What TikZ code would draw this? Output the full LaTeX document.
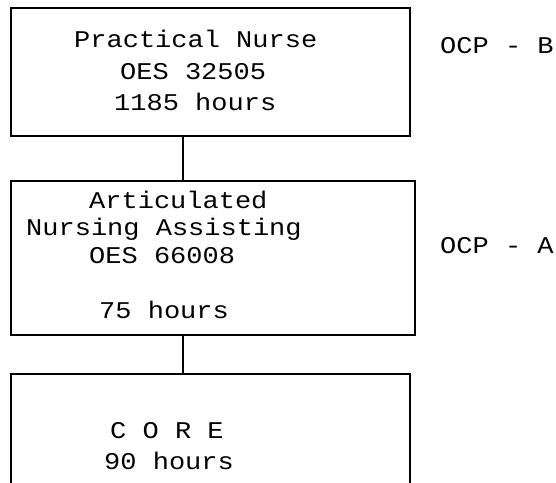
\documentclass[tikz,border=0pt]{standalone}
\usepackage{fontspec}
\setmainfont{Liberation Mono}[FakeStretch=1.125]
\begin{document}
\begin{tikzpicture}[x=1pt,y=-1pt,
  box/.style={draw=black,line width=1.6pt,anchor=north west,inner sep=0pt},
  txt/.style={anchor=base west,inner sep=0pt,font=\fontsize{24}{30}\selectfont},
  link/.style={draw=black,line width=1.6pt}]
\useasboundingbox (0,0) rectangle (556,482);
\clip (0,0) rectangle (556,482);
\node[box,minimum width=399pt,minimum height=128pt] (pn) at (10,7) {};
\node[box,minimum width=404pt,minimum height=154pt] (na) at (10,180) {};
\node[box,minimum width=399pt,minimum height=160pt] (core) at (10,373) {};
\draw[link] ([xshift=173pt]pn.south west) -- ([xshift=173pt]na.north west);
\draw[link] ([xshift=173pt]na.south west) -- ([xshift=173pt]core.north west);
\node[txt] (t1) at (74,47) {Practical Nurse};
\node[txt] (t2) at (120,79) {OES 32505};
\node[txt] (t3) at (114,110) {1185 hours};
\node[txt] (t4) at (89,208) {Articulated};
\node[txt] (t5) at (26,235) {Nursing Assisting};
\node[txt] (t6) at (89,263) {OES 66008};
\node[txt] (t7) at (99,318) {75 hours};
\node[txt] (t8) at (110,438) {C O R E};
\node[txt] (t9) at (104,469) {90 hours};
\node[txt] (ob) at (440,53) {OCP - B};
\node[txt] (oa) at (440,253) {OCP - A};
\end{tikzpicture}
\end{document}
